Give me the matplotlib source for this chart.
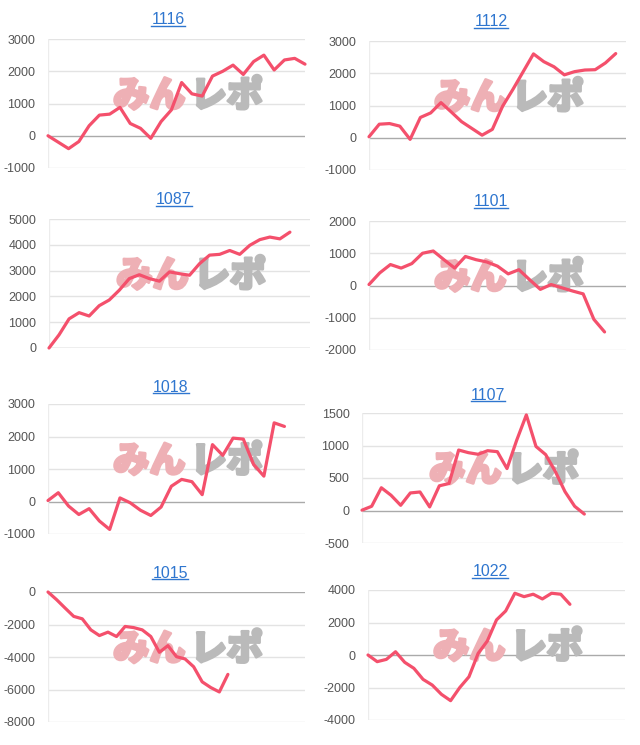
import matplotlib.pyplot as plt
import matplotlib.patheffects as pe
from matplotlib.lines import Line2D

# machine numbers (panel titles), left to right, top to bottom
titles = ['1116', '1112', '1087', '1101', '1018', '1107', '1015', '1022']

# coin difference series
v1116 = [0, -200, -400, -180, 310, 640, 670, 880, 380, 230, -80, 440, 800,
         1650, 1300, 1230, 1850, 2000, 2190, 1900, 2300, 2500, 2040, 2350, 2400, 2220]
v1112 = [30, 420, 440, 360, -50, 630, 770, 1090, 800, 500, 290, 80, 260,
         980, 1500, 2050, 2600, 2360, 2200, 1950, 2050, 2100, 2110, 2320, 2610]
v1087 = [0, 510, 1130, 1370, 1240, 1640, 1860, 2240, 2690, 2840, 2690, 2590, 2950,
         2880, 2820, 3270, 3600, 3630, 3780, 3630, 3980, 4200, 4300, 4230, 4490]
v1101 = [30, 390, 650, 540, 680, 1000, 1070, 800, 540, 900, 800, 730, 600,
         360, 490, 180, -120, 30, -70, -170, -260, -1050, -1440]
v1018 = [30, 270, -140, -400, -220, -600, -860, 110, -40, -270, -430, -170, 470,
         680, 610, 210, 1750, 1420, 1950, 1920, 1140, 780, 2420, 2310]
v1107 = [5, 65, 350, 235, 80, 270, 285, 55, 380, 415, 930, 890, 865,
         920, 905, 645, 1080, 1470, 985, 860, 600, 290, 65, -55]
v1015 = [0, -470, -990, -1500, -1650, -2330, -2680, -2470, -2740, -2120, -2190,
         -2330, -2740, -3710, -3300, -3980, -4120, -4600, -5530, -5880, -6150, -5070]
v1022 = [0, -410, -270, 200, -450, -820, -1500, -1850, -2420, -2810, -2000, -1340,
         100, 860, 2160, 2710, 3800, 3590, 3740, 3450, 3800, 3740, 3120]
series = [v1116, v1112, v1087, v1101, v1018, v1107, v1015, v1022]

# length of each x axis (number of slots shown)
xspan = [25, 25, 26, 24, 25, 27, 30, 28]

# y gridline values for each panel
yticks = [
    [-1000, 0, 1000, 2000, 3000],
    [-1000, 0, 1000, 2000, 3000],
    [0, 1000, 2000, 3000, 4000, 5000],
    [-2000, -1000, 0, 1000, 2000],
    [-1000, 0, 1000, 2000, 3000],
    [-500, 0, 500, 1000, 1500],
    [-8000, -6000, -4000, -2000, 0],
    [-4000, -2000, 0, 2000, 4000],
]

W, H = 640, 745
fig = plt.figure(figsize=(W / 100, H / 100), dpi=100)
plt.rcParams['font.family'] = ['Liberation Sans', 'DejaVu Sans']

# plot boxes in pixels: left, top, right, bottom
boxes = [
    (48, 39, 305, 168), (369, 41, 626, 170),
    (49, 219, 310, 348), (369, 221, 626, 350),
    (48, 404, 305, 534), (362, 413, 623, 543),
    (48, 592, 305, 722), (368, 590, 625, 720),
]
# title centres in pixels
title_pos = [(168, 20), (491, 22), (174, 200), (491, 202),
             (171, 387), (488, 395), (170, 573), (490, 572)]

line_color = '#f4506c'
grid_color = '#e3e3e3'
title_color = '#2f76cf'
pink = '#eeb0b5'
grey = '#bababa'

title_texts = []
for i in range(8):
    l, t, r, b = boxes[i]
    ax = fig.add_axes([l / W, 1 - b / H, (r - l) / W, (b - t) / H])
    vals = series[i]
    ax.plot(range(len(vals)), vals, color=line_color, lw=2.3, zorder=5,
            solid_joinstyle='round', solid_capstyle='round', clip_on=False)
    ax.set_xlim(0, xspan[i])
    ax.set_ylim(yticks[i][0], yticks[i][-1])
    ax.set_yticks(yticks[i])
    ax.set_yticklabels([str(v) for v in yticks[i]])
    ax.set_xticks([])
    for yv in yticks[i]:
        ax.axhline(yv, color='#aaaaaa' if yv == 0 else grid_color, lw=1, zorder=1)
    ax.axvline(0, color='#ececec', lw=1, zorder=1)
    for s in ax.spines.values():
        s.set_visible(False)
    ax.tick_params(axis='y', length=0, pad=9, labelsize=9, labelcolor='#555555')

    # site watermark
    ax.text(0.535, 0.56, 'みん', transform=ax.transAxes, ha='right', va='center',
            fontsize=26, fontweight='heavy', color=pink,
            family=['Noto Sans CJK JP'], zorder=2,
            path_effects=[pe.withStroke(linewidth=2, foreground=pink)])
    ax.text(0.555, 0.56, 'レポ', transform=ax.transAxes, ha='left', va='center',
            fontsize=26, fontweight='heavy', color=grey,
            family=['Noto Sans CJK JP'], zorder=2,
            path_effects=[pe.withStroke(linewidth=2, foreground=grey)])

    tx, ty = title_pos[i]
    title_texts.append(fig.text(tx / W, 1 - ty / H, titles[i], ha='center', va='center',
                                fontsize=11.5, color=title_color))

# underline the titles like links
fig.canvas.draw()
inv = fig.transFigure.inverted()
for tt in title_texts:
    bb = tt.get_window_extent()
    (x0, y0), (x1, y1) = inv.transform([(bb.x0, bb.y0), (bb.x1, bb.y1)])
    fig.add_artist(Line2D([x0, x1], [y0 + 0.002, y0 + 0.002], color=title_color, lw=1))

fig.savefig('out.png', dpi=100)
